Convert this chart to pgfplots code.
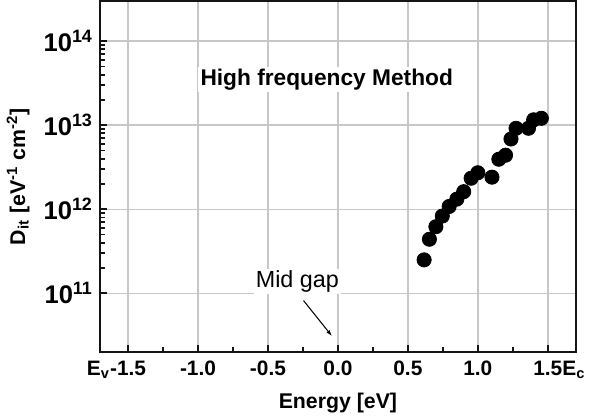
\documentclass[border=0pt]{standalone}
\usepackage{fontspec}
\setmainfont{Liberation Sans}
\usepackage{pgfplots}
\pgfplotsset{compat=1.18}
\usetikzlibrary{arrows.meta}
\definecolor{axisdark}{RGB}{20,20,20}
\begin{document}
\begin{tikzpicture}
\begin{axis}[
  scale only axis, width=234.5pt, height=173pt,
  xmin=-1.7, xmax=1.7,
  ymode=log, ymin=2e10, ymax=3e14,
  axis line style={axisdark, line width=1.1pt},
  tick style={axisdark, line width=0.9pt},
  tick align=inside, xtick pos=lower, ytick pos=left,
  major tick length=3.5pt, minor tick length=2.5pt,
  xtick={-1.5,-1,-0.5,0,0.5,1,1.5},
  xticklabels={\llap{E\textsubscript{v}}-1.5,-1.0,-0.5,0.0,0.5,1.0,1.5\rlap{E\textsubscript{c}}},
  minor x tick num=1,
  ytick={1e11,1e12,1e13,1e14},
  yticklabels={10\textsuperscript{11},10\textsuperscript{12},10\textsuperscript{13},10\textsuperscript{14}},
  x tick label style={font=\fontsize{10.3}{12}\selectfont\bfseries, yshift=-1pt},
  y tick label style={font=\fontsize{12.6}{14}\selectfont\bfseries},
  xmajorgrids, ymajorgrids, major grid style={black!22, line width=0.75pt},
  xlabel={Energy [eV]},
  ylabel={D\textsubscript{it} [eV\textsuperscript{-1} cm\textsuperscript{-2}]},
  label style={font=\fontsize{10.5}{12}\selectfont\bfseries},
  clip=false,
]
\addplot[only marks, mark=*, mark size=3.5pt, black] coordinates {
  (0.616,2.5e11) (0.654,4.4e11) (0.700,6.2e11) (0.746,8.3e11)
  (0.795,1.08e12) (0.850,1.32e12) (0.899,1.62e12) (0.952,2.34e12)
  (1.000,2.72e12) (1.101,2.41e12) (1.150,3.94e12) (1.198,4.4e12)
  (1.237,6.86e12) (1.273,9.2e12) (1.362,9.2e12) (1.399,1.16e13)
  (1.454,1.21e13)
};
\node[fill=white, inner sep=1pt, font=\fontsize{11.2}{13}\selectfont\bfseries]
  at (axis cs:-0.08,3.5e13) {High frequency Method};
\node[fill=white, inner sep=1pt, font=\fontsize{11.5}{13}\selectfont]
  at (axis cs:-0.29,1.38e11) {Mid gap};
\draw[-{Latex[length=3pt,width=2pt]}, line width=0.5pt]
  (axis cs:-0.246,8.2e10) -- (axis cs:-0.043,3.1e10);
\end{axis}
\path (current axis.south east) ++(8pt,0) coordinate (r);
\end{tikzpicture}
\end{document}
